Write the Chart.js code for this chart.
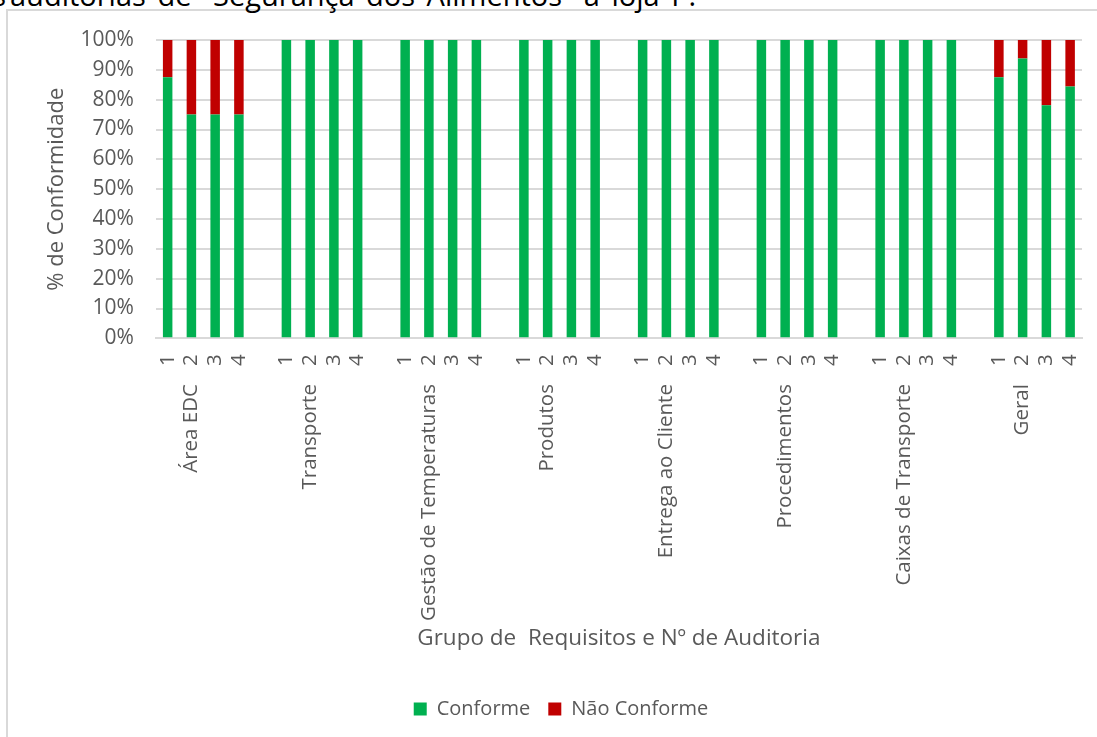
<!DOCTYPE html>
<html>
<head>
<meta charset="utf-8">
<script src="https://cdn.jsdelivr.net/npm/chart.js@4.4.0/dist/chart.umd.min.js"></script>
<style>
  html, body { margin: 0; padding: 0; background: #fff; overflow: hidden; }
  #wrap { position: relative; width: 1097px; height: 737px; overflow: hidden; }
  #frame { position: absolute; left: 6px; top: 9px; width: 1200px; height: 800px; border: 2px solid #d9d9d9; box-sizing: border-box; }
  .title { position: absolute; top: -20px; font: 29px/29px "Open Sans", sans-serif; color: #000; white-space: nowrap; word-spacing: 4px; }
  #t1 { right: 1087px; padding-right: 4px; }
  #t2 { left: 10px; }
  #cv { position: absolute; left: 0; top: 0; }
</style>
</head>
<body>
<div id="wrap">
  <div id="frame"></div>
  <div class="title" id="t1">Resultados das</div>
  <div class="title" id="t2">auditorias de “Segurança dos Alimentos” à loja P.</div>
  <canvas id="cv" width="1097" height="737"></canvas>
</div>
<script>
// grupos de requisitos e nº de auditoria
const groups = ["Área EDC","Transporte","Gestão de Temperaturas","Produtos","Entrega ao Cliente","Procedimentos","Caixas de Transporte","Geral"];
const audits = ["1","2","3","4"];
// % conforme por grupo (auditorias 1..4)
const conforme = [
  [87.5, 75, 75, 75],
  [100, 100, 100, 100],
  [100, 100, 100, 100],
  [100, 100, 100, 100],
  [100, 100, 100, 100],
  [100, 100, 100, 100],
  [100, 100, 100, 100],
  [87.5, 93.8, 78.1, 84.4]
];
const yTicks = [0,10,20,30,40,50,60,70,80,90,100];

// build the category slots: 4 audits per group, one blank slot between groups
let numLabels = [], groupLabels = [], okData = [], nokData = [];
groups.forEach((g, gi) => {
  audits.forEach((a, ai) => {
    numLabels.push(a);
    groupLabels.push(ai === 1 ? g : "");
    okData.push(conforme[gi][ai]);
    nokData.push(100 - conforme[gi][ai]);
  });
  if (gi < groups.length - 1) {
    numLabels.push(" ");
    groupLabels.push("");
    okData.push(null);
    nokData.push(null);
  }
});

const grey = "#595959";
const font = "'Open Sans', sans-serif";
// rotated labels make chart.js reserve side room; the reference has none
const noSidePad = s => { s.paddingLeft = 0; s.paddingRight = 0; };

function draw() {
  new Chart(document.getElementById("cv"), {
    type: 'bar',
    data: {
      labels: numLabels,
      datasets: [
        { label: "Conforme", data: okData, backgroundColor: "#00B050", borderWidth: 0 },
        { label: "Não Conforme", data: nokData, backgroundColor: "#C00000", borderWidth: 0 }
      ]
    },
    options: {
      responsive: false,
      animation: false,
      layout: { padding: { left: 40, right: 15, top: 40, bottom: 8 } },
      datasets: { bar: { barPercentage: 0.4, categoryPercentage: 1 } },
      plugins: {
        legend: {
          position: 'bottom',
          labels: { boxWidth: 13, boxHeight: 13, padding: 18, color: grey, font: { family: font, size: 20 } }
        },
        tooltip: { enabled: false }
      },
      scales: {
        x: {
          stacked: true,
          afterFit: noSidePad,
          grid: { display: false, drawTicks: false, tickLength: 0 },
          border: { color: "#d9d9d9", width: 2 },
          ticks: { autoSkip: false, minRotation: 90, maxRotation: 90, padding: 16, color: grey, font: { family: font, size: 20.5 } }
        },
        x2: {
          type: 'category',
          position: 'bottom',
          labels: groupLabels,
          offset: true,
          afterFit: noSidePad,
          grid: { display: false, drawTicks: false, tickLength: 0 },
          border: { display: false },
          ticks: { autoSkip: false, minRotation: 90, maxRotation: 90, padding: 2, color: grey, font: { family: font, size: 20.5 } },
          title: { display: true, text: "Grupo de  Requisitos e Nº de Auditoria", color: grey, padding: { top: 2, bottom: 29 }, font: { family: font, size: 22.5 } }
        },
        y: {
          stacked: true,
          min: 0,
          max: 100,
          afterBuildTicks: s => { s.ticks = yTicks.map(v => ({ value: v })); },
          grid: { color: "#d9d9d9", lineWidth: 2, drawTicks: false, tickLength: 0 },
          border: { display: false },
          ticks: { padding: 22, color: grey, font: { family: font, size: 21 }, callback: v => v + "%" },
          title: { display: true, text: "% de Conformidade", color: grey, padding: { top: 4, bottom: -12 }, font: { family: font, size: 22 } }
        }
      }
    }
  });
}

if (document.fonts && document.fonts.load) {
  document.fonts.load("20px 'Open Sans'").then(draw, draw);
} else {
  draw();
}
</script>
</body>
</html>
